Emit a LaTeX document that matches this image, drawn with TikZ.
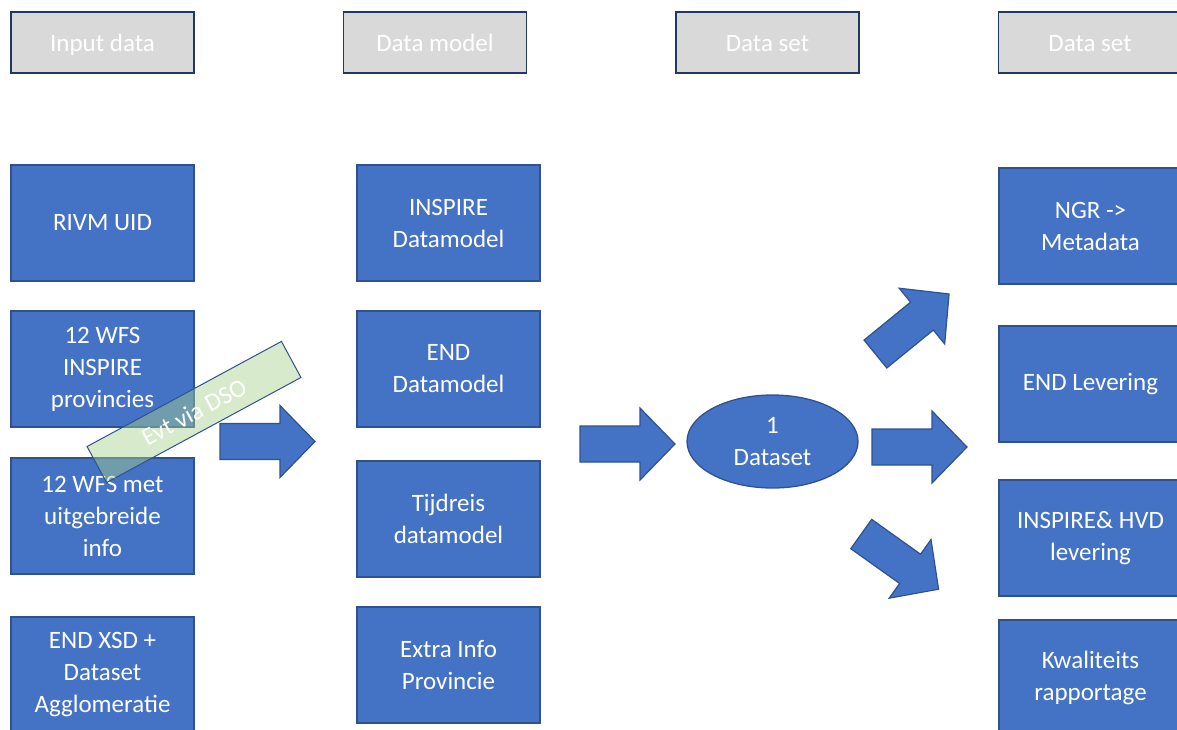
\documentclass[tikz,border=0pt]{standalone}
\usepackage{fontspec}
\setmainfont{Carlito}
\usetikzlibrary{shapes.geometric}
\definecolor{boxblue}{HTML}{4472C4}
\definecolor{boxedge}{HTML}{2F528F}
\definecolor{headfill}{HTML}{D9D9D9}
\definecolor{headedge}{HTML}{203864}
\definecolor{labgreen}{HTML}{A9D18E}
\tikzset{
  txt/.style={text=white, font=\fontsize{25}{32}\selectfont, align=center},
  head/.style={txt, draw=headedge, fill=headfill, line width=1.3pt, minimum width=183pt, minimum height=61pt, inner sep=0pt, text height=20pt, text depth=3pt},
  blue/.style={txt, draw=boxedge, fill=boxblue, line width=1.3pt, minimum width=183pt, minimum height=116pt, inner sep=0pt},
  oval/.style={txt, ellipse, draw=boxedge, fill=boxblue, line width=1.3pt, minimum width=171pt, minimum height=93pt, inner sep=0pt},
  glabel/.style={txt, draw=boxedge, line width=1pt, fill=labgreen, fill opacity=0.45, text opacity=1, minimum width=221pt, minimum height=41pt, inner sep=0pt},
  blockarrow/.pic={
    \draw[draw=boxedge, fill=boxblue, line width=1.2pt, line join=miter]
      (-47.5,-18) -- (12.5,-18) -- (12.5,-36) -- (47.5,0) -- (12.5,36) -- (12.5,18) -- (-47.5,18) -- cycle;
  }
}
\begin{document}
\begin{tikzpicture}[x=1pt, y=-1pt]
\useasboundingbox (0,0) rectangle (1177,729);
\clip (0,0) rectangle (1177,729);
% headers
\node[head] (h1) at (102.5,42.5) {Input data};
\node[head] (h2) at (435,42.5) {Data model};
\node[head] (h3) at (767.5,42.5) {Data set};
\node[head] (h4) at (1090,42.5) {Data set};
% column 1
\node[blue] (c1a) at (102.5,223) {RIVM UID};
\node[blue] (c1b) at (102.5,369) {12 WFS\\INSPIRE\\provincies};
\node[blue] (c1c) at (102.5,516) {12 WFS met\\uitgebreide\\info};
\node[blue] (c1d) at (102.5,675) {END XSD +\\Dataset\\Agglomeratie};
% column 2
\node[blue] (c2a) at (448.5,223) {INSPIRE\\Datamodel};
\node[blue] (c2b) at (448.5,369) {END\\Datamodel};
\node[blue] (c2c) at (448.5,519) {Tijdreis\\datamodel};
\node[blue] (c2d) at (448.5,665) {Extra Info\\Provincie};
% ellipse
\node[oval] (ds) at (772.5,441.5) {1\\Dataset};
% column 4
\node[blue] (c4a) at (1090.5,226) {NGR ->\\Metadata};
\node[blue] (c4b) at (1090.5,384) {END Levering};
\node[blue] (c4c) at (1090.5,538) {INSPIRE\& HVD\\levering};
\node[blue] (c4d) at (1090.5,678) {Kwaliteits\\rapportage};
% block arrows
\pic at (267.5,441.5) {blockarrow};
\pic at (627.5,444) {blockarrow};
\pic at (919.5,447) {blockarrow};
\pic[rotate=39.2] at (912.25,324) {blockarrow};
\pic[rotate=-35.5] at (899.9,561.6) {blockarrow};
% label
\node[glabel, rotate=28.4] (evt) at (194,412) {Evt via DSO};
\end{tikzpicture}
\end{document}
